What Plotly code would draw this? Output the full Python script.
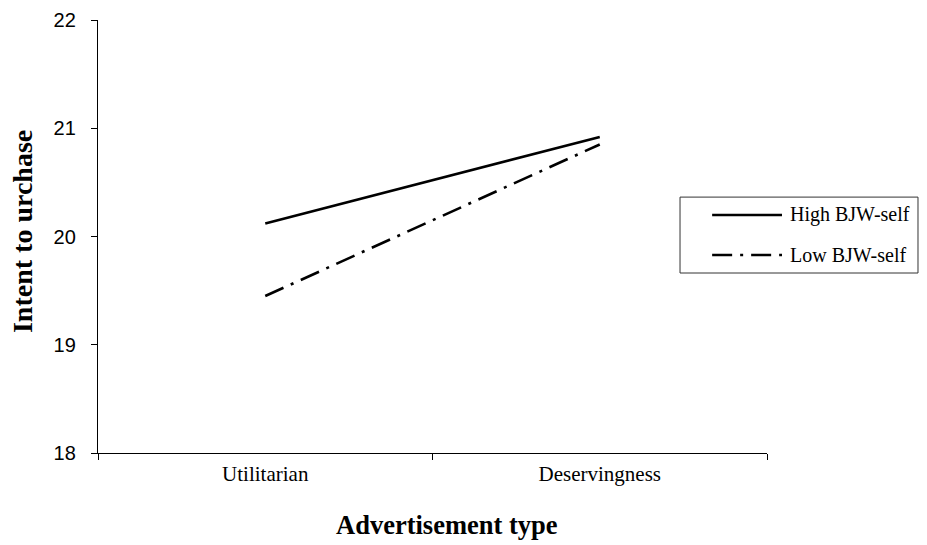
import plotly.graph_objects as go

categories = ["Utilitarian", "Deservingness"]
high_bjw = [20.12, 20.92]
low_bjw = [19.45, 20.85]
series_names = ["High BJW-self", "Low BJW-self"]
y_ticks = [18, 19, 20, 21, 22]
x_title = "Advertisement type"
y_title = "Intent to urchase"

serif = "Liberation Serif, Times New Roman, serif"
sans = "Liberation Sans, Arial, sans-serif"
dash_low = "20px,8px,3px,8px"
styles = [dict(color="black", width=2.6), dict(color="black", width=2.6, dash=dash_low)]

fig = go.Figure()
for name, vals, st in zip(series_names, [high_bjw, low_bjw], styles):
    fig.add_trace(go.Scatter(x=categories, y=vals, mode="lines", name=name,
                             line=st, showlegend=False))

# legend drawn as a framed key (paper coordinates) to reproduce the long line samples
legend_rows_y = [0.5497, 0.4573]
fig.add_shape(type="rect", xref="paper", yref="paper", x0=0.870, x1=1.2257, y0=0.4157, y1=0.591,
              line=dict(color="#333", width=1), fillcolor="white", layer="above")
for name, st, ry in zip(series_names, styles, legend_rows_y):
    fig.add_shape(type="line", xref="paper", yref="paper", x0=0.918, x1=1.0224, y0=ry, y1=ry,
                  line=st, layer="above")
    fig.add_annotation(xref="paper", yref="paper", x=1.0314, y=ry, xanchor="left", yanchor="middle",
                       text=name, showarrow=False,
                       font=dict(family=serif, size=20, color="black"))

# axis titles
fig.add_annotation(xref="paper", yref="paper", x=0.5217, y=-0.166, xanchor="center", yanchor="middle",
                   text="<b>" + x_title + "</b>", showarrow=False,
                   font=dict(family=serif, size=26.5, color="black"))
fig.add_annotation(xref="paper", yref="paper", x=-0.1136, y=0.5103, xanchor="center", yanchor="middle",
                   text="<b>" + y_title + "</b>", showarrow=False, textangle=-90,
                   font=dict(family=serif, size=28, color="black"))

fig.update_layout(
    width=927, height=545,
    margin=dict(l=90, r=168, t=12, b=100),
    paper_bgcolor="white", plot_bgcolor="white",
    showlegend=False,
    xaxis=dict(type="category", range=[-0.5, 1.5], tickson="boundaries", automargin=False,
               showline=True, linecolor="black", linewidth=1.3,
               ticks="outside", ticklen=6, tickcolor="black", tickwidth=1.3,
               tickfont=dict(family=serif, size=21, color="black"),
               ticklabelstandoff=2,
               showgrid=False, zeroline=False),
    yaxis=dict(range=[18, 22], tickvals=y_ticks, automargin=False,
               showline=True, linecolor="black", linewidth=1.3,
               ticks="outside", ticklen=6, tickcolor="black", tickwidth=1.3,
               tickfont=dict(family=sans, size=20, color="black"),
               ticklabelstandoff=11,
               showgrid=False, zeroline=False),
    xaxis2=dict(overlaying="x", range=[-0.5, 1.5], tickvals=[-0.5, 0.5, 1.5], automargin=False,
                ticks="inside", ticklen=6, tickcolor="black", tickwidth=1.3,
                showticklabels=False, showgrid=False, zeroline=False, showline=False),
    yaxis2=dict(overlaying="y", range=[18, 22], tickvals=y_ticks, automargin=False,
                ticks="inside", ticklen=6, tickcolor="black", tickwidth=1.3,
                showticklabels=False, showgrid=False, zeroline=False, showline=False),
)

fig.write_html("out.html")
